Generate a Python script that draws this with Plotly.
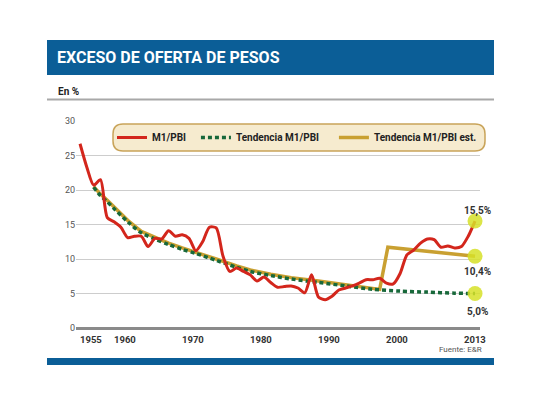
import plotly.graph_objects as go

# ---------------- data ----------------
m1_years = list(range(1955, 2014))
m1_vals = [26.7, 23.3, 20.7, 21.5, 16.0, 15.4, 14.6, 13.1, 13.3, 13.3,
           11.8, 13.0, 12.9, 14.1, 13.3, 13.5, 13.0, 11.2, 12.5, 14.6,
           14.5, 10.4, 8.2, 8.7, 8.2, 7.7, 6.8, 7.4, 6.6, 5.9,
           6.0, 6.1, 5.8, 5.1, 7.7, 4.5, 4.1, 4.6, 5.5, 5.8,
           6.1, 6.5, 7.0, 7.0, 7.2, 6.5, 6.4, 7.9, 10.6, 11.3,
           12.3, 12.9, 12.8, 11.7, 11.9, 11.6, 11.8, 13.3, 15.5]

trend_years = [1957, 1958, 1959, 1960, 1962, 1964, 1966, 1968, 1970, 1972, 1975,
               1978, 1980, 1983, 1986, 1990, 1994, 1998, 2002, 2006, 2010, 2013]
trend_vals = [20.4, 19.2, 18.3, 17.3, 15.4, 13.8, 12.9, 12.1, 11.4, 10.8, 9.8,
              8.8, 8.2, 7.6, 7.1, 6.6, 6.1, 5.6, 5.35, 5.2, 5.05, 5.0]

est_years = [1957, 1958, 1959, 1960, 1962, 1964, 1966, 1968, 1970, 1972, 1975,
             1978, 1980, 1983, 1986, 1990, 1994, 1999, 2000.2, 2013]
est_vals = [20.5, 19.4, 18.5, 17.5, 15.6, 14.0, 13.1, 12.3, 11.6, 11.0, 10.0,
            9.0, 8.4, 7.8, 7.3, 6.8, 6.3, 5.6, 11.7, 10.4]

end_year = 2013
end_vals = [15.5, 10.4, 5.0]
end_labels = ["15,5%", "10,4%", "5,0%"]

x_tick_years = [1955, 1960, 1970, 1980, 1990, 2000, 2013]
x_tick_labels = ["1955", "1960", "1970", "1980", "1990", "2000", "2013"]
y_ticks = [0, 5, 10, 15, 20, 25, 30]

series_names = ["M1/PBI", "Tendencia M1/PBI", "Tendencia M1/PBI est."]

# ---------------- style ----------------
RED = "#d3261c"
GREEN = "#17683a"
GOLD = "#c9a031"
BLUE = "#0b5e97"
FONT = "Roboto, Open Sans, sans-serif"
NBSP = "\u00a0"

# page body adds an 8px offset; figure sized to fit the window
OFF = 8
W, H = 540 - OFF, 405 - OFF
# plot area in screen pixels
L, R, T, B = 76, 480, 121, 328


def px(x):
    return (x - L) / (R - L)


def py(y):
    return (B - y) / (B - T)


fig = go.Figure()

fig.add_trace(go.Scatter(x=est_years, y=est_vals, mode="lines",
                         name=series_names[2], legendrank=3,
                         line=dict(color=GOLD, width=3.5)))
fig.add_trace(go.Scatter(x=trend_years, y=trend_vals, mode="lines",
                         name=series_names[1] + NBSP * 4, legendrank=2,
                         line=dict(color=GREEN, width=3.5, dash="4px,3px",
                                   shape="spline", smoothing=0.8)))
fig.add_trace(go.Scatter(x=m1_years, y=m1_vals, mode="lines",
                         name=series_names[0] + NBSP * 2, legendrank=1,
                         line=dict(color=RED, width=3, shape="spline", smoothing=0.7)))
fig.add_trace(go.Scatter(x=[end_year] * len(end_vals), y=end_vals,
                         mode="markers", showlegend=False,
                         marker=dict(size=15, color="rgba(214,224,40,0.85)"),
                         cliponaxis=False))

shapes = []
shapes.append(dict(type="rect", xref="paper", yref="paper",
                   x0=px(47), x1=px(494), y0=py(75), y1=py(40),
                   fillcolor=BLUE, line=dict(width=0), layer="below"))
shapes.append(dict(type="rect", xref="paper", yref="paper",
                   x0=px(47), x1=px(494), y0=py(365), y1=py(358),
                   fillcolor=BLUE, line=dict(width=0), layer="below"))
shapes.append(dict(type="line", xref="paper", yref="paper",
                   x0=px(47), x1=px(494), y0=py(99.5), y1=py(99.5),
                   line=dict(color="#a8a8a8", width=2)))
bx0, bx1, by0, by1, r = 113, 485, 124, 151, 10
path = (f"M {px(bx0 + r)},{py(by0)} L {px(bx1 - r)},{py(by0)} "
        f"Q {px(bx1)},{py(by0)} {px(bx1)},{py(by0 + r)} "
        f"L {px(bx1)},{py(by1 - r)} Q {px(bx1)},{py(by1)} {px(bx1 - r)},{py(by1)} "
        f"L {px(bx0 + r)},{py(by1)} Q {px(bx0)},{py(by1)} {px(bx0)},{py(by1 - r)} "
        f"L {px(bx0)},{py(by0 + r)} Q {px(bx0)},{py(by0)} {px(bx0 + r)},{py(by0)} Z")
shapes.append(dict(type="path", xref="paper", yref="paper", path=path,
                   fillcolor="#f6ebcf", line=dict(color="#c9a45a", width=1.5),
                   layer="below"))

annotations = []
annotations.append(dict(text="<b>EXCESO DE OFERTA DE PESOS</b>", xref="paper", yref="paper",
                        x=px(55), y=py(58), xanchor="left", yanchor="middle",
                        showarrow=False, font=dict(family=FONT, size=16, color="white")))
annotations.append(dict(text="<b>En %</b>", xref="paper", yref="paper",
                        x=px(56), y=py(91.5), xanchor="left", yanchor="middle",
                        showarrow=False, font=dict(family=FONT, size=10, color="#222222")))
annotations.append(dict(text="Fuente: E&amp;R", xref="paper", yref="paper",
                        x=px(484), y=py(349), xanchor="right", yanchor="middle",
                        showarrow=False, font=dict(family=FONT, size=8, color="#555555")))
label_shifts = [10, -16, -18]
for v, lab, sh in zip(end_vals, end_labels, label_shifts):
    annotations.append(dict(text=f"<b>{lab}</b>", xref="x", yref="y",
                            x=end_year, y=v, yshift=sh, xshift=2,
                            xanchor="center", yanchor="middle", showarrow=False,
                            font=dict(family=FONT, size=10, color="#333333")))
for yr, lab in zip(x_tick_years, x_tick_labels):
    last = yr == x_tick_years[-1]
    annotations.append(dict(text=f"<b>{lab}</b>", xref="x", yref="paper",
                            x=yr, y=py(339), xanchor="center" if last else "left",
                            xshift=0 if last else -2,
                            yanchor="middle", showarrow=False,
                            font=dict(family=FONT, size=9.5, color="#333333")))

fig.update_layout(
    width=W, height=H,
    margin=dict(l=L - OFF, r=W - (R - OFF), t=T - OFF, b=H - (B - OFF), autoexpand=False),
    paper_bgcolor="white", plot_bgcolor="white",
    shapes=shapes, annotations=annotations,
    showlegend=True,
    legend=dict(orientation="h", xref="paper", yref="paper",
                x=px(112), y=py(137.5), xanchor="left", yanchor="middle",
                bgcolor="rgba(0,0,0,0)", borderwidth=0,
                font=dict(family=FONT, size=10, color="#222222", weight="bold"),
                itemwidth=30, tracegroupgap=0),
    xaxis=dict(range=[1954.41, 2013.73], showgrid=False, zeroline=False,
               showticklabels=False, showline=False, ticks=""),
    yaxis=dict(range=[0, 30], tickvals=y_ticks, showgrid=True, gridcolor="#cdcdcd",
               gridwidth=1, zeroline=True, zerolinecolor="#8a8a8a", zerolinewidth=2.5,
               showline=False, ticks="",
               tickfont=dict(family=FONT, size=9, color="#555555")),
)

fig.write_html("out.html")
